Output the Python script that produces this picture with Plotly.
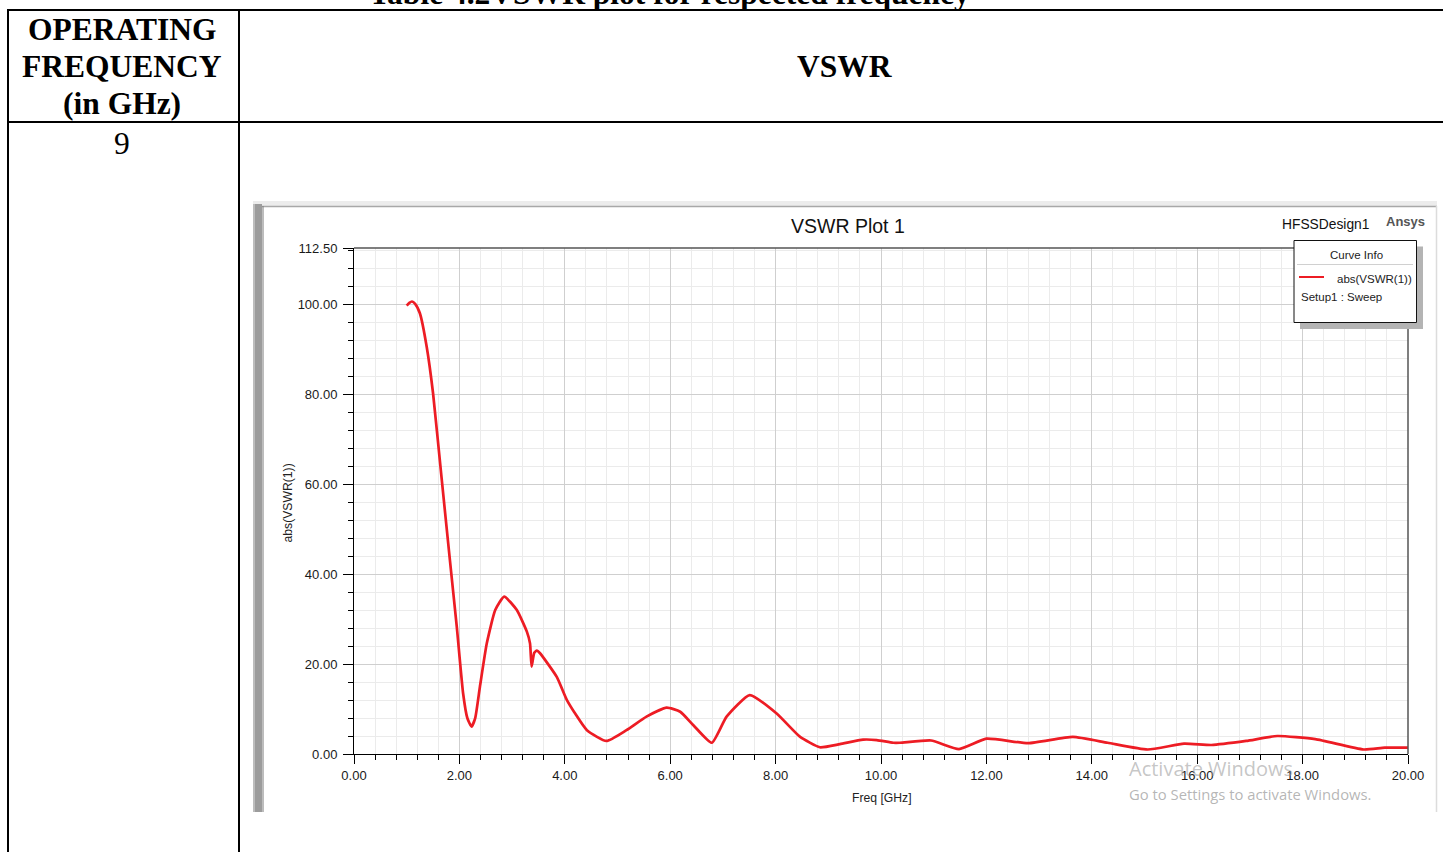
import plotly.graph_objects as go

# ---------------- data ----------------
freq_ghz = [1.00, 1.05, 1.10, 1.16, 1.25, 1.38, 1.50, 1.66, 1.82, 1.95, 2.07, 2.15, 2.23, 2.30,
            2.39, 2.52, 2.68, 2.85, 3.09, 3.28, 3.34, 3.37, 3.42, 3.47, 3.53, 3.85, 4.04, 4.42,
            4.79, 5.17, 5.55, 5.93, 6.19, 6.44, 6.79, 7.07, 7.51, 8.02, 8.46, 8.84, 9.22, 9.66,
            9.92, 10.23, 10.36, 10.95, 11.48, 12.00, 12.79, 13.64, 14.30, 15.06, 15.75, 16.27,
            16.93, 17.52, 18.24, 19.16, 19.56, 20.00]
vswr = [99.7, 100.3, 100.6, 100.1, 98.0, 90.5, 80.2, 61.6, 43.1, 28.3, 13.5, 8.0, 6.1, 8.0,
        15.0, 24.6, 32.0, 35.0, 32.0, 27.2, 24.6, 19.4, 22.5, 23.0, 22.4, 17.1, 12.0, 5.3,
        2.9, 5.3, 8.3, 10.3, 9.4, 6.4, 2.5, 8.3, 13.1, 9.0, 3.85, 1.5, 2.2, 3.2,
        3.1, 2.5, 2.5, 3.0, 1.1, 3.4, 2.4, 3.8, 2.5, 1.0, 2.3, 2.0,
        2.9, 4.0, 3.3, 1.0, 1.4, 1.4]

y_tickvals = [0, 20, 40, 60, 80, 100, 112.5]
x_range = [0, 20]
y_range = [0, 112.5]

W, H = 1443, 852
def px(x):
    return x / W
def py(y):
    return 1 - y / H

SANS = "Liberation Sans, Arial, sans-serif"
SERIF = "Liberation Serif, Times New Roman, serif"
RED = "#ed1c24"

fig = go.Figure()
fig.add_trace(go.Scatter(
    x=freq_ghz, y=vswr, mode="lines",
    line=dict(color=RED, width=2.7, shape="spline", smoothing=0.5),
    showlegend=False, hoverinfo="x+y"))

shapes = []
def line(x0, y0, x1, y1, color="black", width=2, layer="above"):
    shapes.append(dict(type="line", xref="paper", yref="paper",
                       x0=px(x0), y0=py(y0), x1=px(x1), y1=py(y1),
                       line=dict(color=color, width=width), layer=layer))
def rect(x0, y0, x1, y1, fill, lc=None, lw=0, layer="above"):
    shapes.append(dict(type="rect", xref="paper", yref="paper",
                       x0=px(x0), y0=py(y0), x1=px(x1), y1=py(y1),
                       fillcolor=fill,
                       line=dict(color=lc or fill, width=lw), layer=layer))

# table lines
line(7, 10, W, 10)
line(8, 9, 8, H)
line(239, 9, 239, H)
line(7, 122, W, 122)

# plot panel frame
rect(253, 201, 1437, 206, "#ececec", layer="below")
line(262, 206.5, 1437, 206.5, color="#a8a8a8", width=1.5, layer="below")
line(1436.5, 206, 1436.5, 812, color="#dcdcdc", width=1.5, layer="below")
rect(253, 204, 262, 812, "#9c9c9c", layer="below")
line(254, 204, 254, 812, color="#c8c8c8", width=1.5, layer="below")
line(263, 206, 263, 812, color="#7a7a7a", width=1, layer="below")

# top / right borders of plot area
line(354, 248, 1408, 248, color="#555555", width=1.5)
line(1408, 248, 1408, 754, color="#555555", width=1.5)

# legend box
rect(1300, 246.5, 1423, 329, "#b4b4b4")
rect(1294, 240.5, 1416.5, 322.5, "white", lc="#111111", lw=1)
line(1297, 264.5, 1413, 264.5, color="#d0d0d0", width=1)
line(1299, 277, 1324, 277, color=RED, width=2)

annotations = []
def text(t, x, y, size, family=SANS, color="#222222", xanchor="center", yanchor="middle", bold=False, angle=0):
    if bold:
        t = "<b>" + t + "</b>"
    annotations.append(dict(text=t, xref="paper", yref="paper", x=px(x), y=py(y),
                            xanchor=xanchor, yanchor=yanchor, showarrow=False,
                            textangle=angle,
                            font=dict(family=family, size=size, color=color)))

# table texts
text("Table 4.2VSWR plot for respected frequency", 669, -6.5, 31.5, family=SERIF, color="black", bold=True)
text("OPERATING", 122, 30, 31.5, family=SERIF, color="black", bold=True)
text("FREQUENCY", 122, 66, 31.5, family=SERIF, color="black", bold=True)
text("(in GHz)", 122, 103, 31.5, family=SERIF, color="black", bold=True)
text("VSWR", 845, 66, 31.5, family=SERIF, color="black", bold=True)
text("9", 122, 143, 31.5, family=SERIF, color="black")

# chart texts
text("VSWR Plot 1", 848, 226, 19.5, color="#111111")
text("HFSSDesign1", 1325, 225, 13.8, color="#111111")
text("Ansys", 1405.5, 221, 13, color="#555555", bold=True)
text("Curve Info", 1356, 255, 11.5)
text("abs(VSWR(1))", 1374.5, 279, 11.5)
text("Setup1 : Sweep", 1299, 296.5, 11.5, xanchor="left")
text("Freq [GHz]", 881.5, 798, 12.2)
text("abs(VSWR(1))", 287, 503.5, 12.2, angle=-90)

# watermark
text("Activate Windows", 1127, 768.5, 20, family="Open Sans, sans-serif",
     color="rgba(150,150,150,0.55)", xanchor="left")
text("Go to Settings to activate Windows.", 1127, 793.5, 14.8, family="Open Sans, sans-serif",
     color="rgba(150,150,150,0.7)", xanchor="left")

fig.update_layout(
    autosize=True,
    margin=dict(l=0, r=0, t=0, b=0, autoexpand=False),
    paper_bgcolor="white", plot_bgcolor="white",
    shapes=shapes, annotations=annotations,
    showlegend=False,
    xaxis=dict(
        domain=[px(354), px(1408)], range=x_range, dtick=2, tick0=0,
        tickformat=".2f", showline=True, linecolor="black", linewidth=1,
        ticks="outside", ticklen=9, tickcolor="black", tickwidth=1,
        showgrid=True, gridcolor="#cfcfcf", gridwidth=1, zeroline=False,
        tickfont=dict(family=SANS, size=13, color="#1a1a1a"),
        minor=dict(dtick=0.4, tick0=0, ticks="outside", ticklen=5, tickcolor="black",
                   showgrid=True, gridcolor="#ebebeb", gridwidth=1),
        fixedrange=True,
    ),
    yaxis=dict(
        domain=[py(754), py(248)], range=y_range, tickmode="array",
        tickvals=y_tickvals, ticktext=[f"{v:.2f}" for v in y_tickvals],
        showline=True, linecolor="black", linewidth=1,
        ticks="outside", ticklen=10, tickcolor="black", tickwidth=1,
        ticklabelstandoff=3,
        showgrid=True, gridcolor="#cfcfcf", gridwidth=1, zeroline=False,
        tickfont=dict(family=SANS, size=13, color="#1a1a1a"),
        minor=dict(dtick=4, tick0=0, ticks="outside", ticklen=5, tickcolor="black",
                   showgrid=True, gridcolor="#ebebeb", gridwidth=1),
        fixedrange=True,
    ),
)

# Pin the 1443x852 plot div to the window's top-left corner so the page's
# default body margin does not push it out of the window.
fig.write_html(
    "out.html",
    config={"displayModeBar": False, "responsive": True},
    default_width="1443px",
    default_height="852px; position:absolute; left:0; top:0",
)
